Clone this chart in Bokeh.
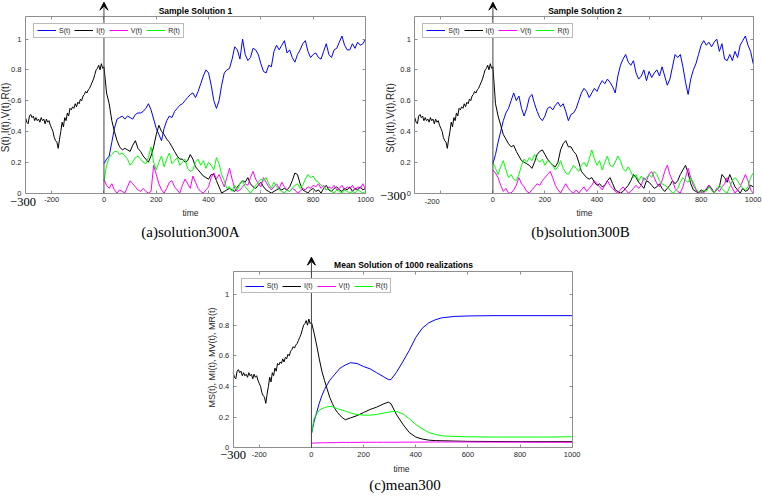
import math
from bokeh.plotting import figure
from bokeh.models import (Range1d, LinearAxis, FixedTicker, Legend, LegendItem, Arrow,
                          VeeHead, Spacer, CustomJSTickFormatter)
from bokeh.core.properties import value
from bokeh.layouts import row, column
from bokeh.embed import file_html
from bokeh.resources import INLINE

# ---------------- data ----------------
T_POST = list(range(0, 1001, 10))

HIST_T = [-300, -295, -290, -285, -280, -275, -270, -265, -260, -255, -250, -245, -240, -235,
          -230, -225, -220, -215, -210, -205, -200, -195, -190, -185, -180, -175, -170, -165,
          -160, -155, -150, -145, -140, -135, -130, -125, -120, -115, -110, -105, -100, -95,
          -90, -85, -80, -75, -70, -65, -60, -55, -50, -45, -40, -35, -30, -25, -20, -15,
          -10, -5, 0]
HIST_I = [0.49, 0.46, 0.45, 0.50, 0.51, 0.49, 0.50, 0.47, 0.49, 0.47, 0.48, 0.46, 0.49, 0.47,
          0.48, 0.45, 0.48, 0.46, 0.47, 0.44, 0.42, 0.40, 0.36, 0.34, 0.33, 0.29, 0.35, 0.40,
          0.46, 0.43, 0.49, 0.47, 0.52, 0.50, 0.55, 0.54, 0.56, 0.55, 0.58, 0.56, 0.59, 0.58,
          0.61, 0.60, 0.63, 0.64, 0.66, 0.65, 0.67, 0.68, 0.70, 0.72, 0.74, 0.77, 0.80, 0.81,
          0.83, 0.80, 0.84, 0.81, 0.82]

# Sample solution 1
S1 = [0.19, 0.22, 0.24, 0.33, 0.42, 0.48, 0.49, 0.50, 0.48, 0.50,
      0.49, 0.48, 0.51, 0.52, 0.52, 0.53, 0.55, 0.58, 0.54, 0.48,
      0.42, 0.38, 0.34, 0.42, 0.47, 0.50, 0.49, 0.53, 0.55, 0.57,
      0.58, 0.60, 0.62, 0.64, 0.65, 0.62, 0.66, 0.71, 0.76, 0.80,
      0.78, 0.70, 0.60, 0.55, 0.60, 0.70, 0.78, 0.80, 0.81, 0.87,
      0.95, 0.93, 0.87, 1.00, 0.90, 0.86, 0.88, 0.94, 0.93, 0.90,
      0.84, 0.79, 0.78, 0.83, 0.82, 0.92, 0.96, 0.93, 0.96, 0.99,
      0.91, 0.93, 0.88, 0.85, 0.90, 0.93, 0.97, 0.99, 0.92, 0.88,
      0.90, 0.91, 0.88, 0.87, 0.92, 0.97, 0.90, 0.88, 0.93, 0.94,
      0.98, 1.02, 0.96, 0.93, 0.93, 0.97, 0.94, 0.98, 0.96, 0.97, 1.00]
I1 = [0.82, 0.65, 0.58, 0.47, 0.40, 0.34, 0.30, 0.28, 0.29, 0.28,
      0.27, 0.31, 0.34, 0.29, 0.27, 0.24, 0.22, 0.20, 0.24, 0.30,
      0.38, 0.44, 0.40, 0.38, 0.35, 0.33, 0.30, 0.27, 0.24, 0.22,
      0.22, 0.20, 0.21, 0.25, 0.22, 0.17, 0.15, 0.13, 0.11, 0.10,
      0.09, 0.12, 0.12, 0.08, 0.04, 0.00, 0.01, 0.02, 0.03, 0.02,
      0.01, 0.04, 0.06, 0.08, 0.07, 0.10, 0.06, 0.04, 0.03, 0.05,
      0.07, 0.04, 0.02, 0.01, 0.00, 0.01, 0.02, 0.03, 0.02, 0.03,
      0.02, 0.04, 0.08, 0.13, 0.12, 0.06, 0.02, 0.01, 0.00, 0.02,
      0.03, 0.01, 0.02, 0.00, 0.03, 0.05, 0.02, 0.01, 0.03, 0.04,
      0.02, 0.01, 0.03, 0.02, 0.04, 0.01, 0.03, 0.02, 0.04, 0.02, 0.03]
V1 = [0.09, 0.05, 0.03, 0.06, 0.02, 0.00, 0.02, 0.01, 0.00, 0.04,
      0.08, 0.06, 0.04, 0.02, 0.01, 0.03, 0.01, 0.00, 0.01, 0.18,
      0.12, 0.06, 0.02, 0.00, 0.03, 0.07, 0.08, 0.04, 0.02, 0.00,
      0.05, 0.09, 0.06, 0.03, 0.11, 0.07, 0.03, 0.01, 0.00, 0.02,
      0.04, 0.10, 0.13, 0.09, 0.12, 0.08, 0.04, 0.10, 0.16, 0.09,
      0.03, 0.01, 0.02, 0.04, 0.06, 0.05, 0.10, 0.14, 0.09, 0.06,
      0.04, 0.10, 0.07, 0.04, 0.02, 0.04, 0.06, 0.03, 0.07, 0.04,
      0.02, 0.01, 0.03, 0.02, 0.00, 0.01, 0.03, 0.02, 0.04, 0.03,
      0.05, 0.04, 0.06, 0.03, 0.05, 0.02, 0.04, 0.03, 0.05, 0.02,
      0.03, 0.05, 0.02, 0.04, 0.03, 0.05, 0.02, 0.04, 0.03, 0.06, 0.02]
R1 = [0.08, 0.18, 0.23, 0.25, 0.27, 0.27, 0.25, 0.26, 0.24, 0.22,
      0.18, 0.20, 0.23, 0.24, 0.22, 0.20, 0.19, 0.23, 0.30, 0.20,
      0.15, 0.20, 0.24, 0.17, 0.22, 0.26, 0.19, 0.21, 0.23, 0.18,
      0.20, 0.22, 0.16, 0.14, 0.15, 0.20, 0.22, 0.18, 0.21, 0.16,
      0.20, 0.18, 0.15, 0.23, 0.19, 0.12, 0.08, 0.03, 0.04, 0.01,
      0.05, 0.02, 0.06, 0.08, 0.04, 0.02, 0.00, 0.02, 0.05, 0.07,
      0.09, 0.08, 0.10, 0.06, 0.03, 0.07, 0.04, 0.02, 0.01, 0.00,
      0.02, 0.01, 0.03, 0.05, 0.06, 0.03, 0.05, 0.09, 0.12, 0.10,
      0.11, 0.08, 0.07, 0.05, 0.04, 0.02, 0.03, 0.01, 0.00, 0.02,
      0.01, 0.00, 0.02, 0.01, 0.00, 0.01, 0.00, 0.02, 0.01, 0.00, 0.01]

# Sample solution 2
S2 = [0.19, 0.25, 0.33, 0.40, 0.47, 0.52, 0.55, 0.60, 0.65, 0.60,
      0.63, 0.55, 0.50, 0.55, 0.62, 0.64, 0.58, 0.53, 0.49, 0.47,
      0.50, 0.55, 0.56, 0.54, 0.57, 0.59, 0.56, 0.58, 0.53, 0.47,
      0.51, 0.52, 0.55, 0.60, 0.65, 0.68, 0.66, 0.62, 0.65, 0.68,
      0.66, 0.70, 0.73, 0.71, 0.74, 0.72, 0.69, 0.65, 0.76, 0.83,
      0.87, 0.90, 0.85, 0.83, 0.86, 0.78, 0.74, 0.76, 0.80, 0.73,
      0.79, 0.75, 0.78, 0.80, 0.76, 0.82, 0.76, 0.70, 0.74, 0.82,
      0.90, 0.88, 0.90, 0.82, 0.72, 0.64, 0.74, 0.80, 0.84, 0.90,
      0.96, 0.99, 0.96, 0.98, 0.95, 0.98, 1.00, 0.92, 0.97, 0.87,
      0.86, 0.90, 0.86, 0.92, 0.88, 0.96, 0.99, 1.02, 0.96, 0.92, 0.84]
I2 = [0.82, 0.58, 0.50, 0.44, 0.38, 0.35, 0.32, 0.30, 0.31, 0.27,
      0.24, 0.21, 0.20, 0.19, 0.18, 0.16, 0.20, 0.25, 0.27, 0.28,
      0.25, 0.22, 0.20, 0.18, 0.17, 0.20, 0.28, 0.32, 0.34, 0.30,
      0.30, 0.27, 0.25, 0.20, 0.14, 0.12, 0.10, 0.09, 0.10, 0.07,
      0.05, 0.06, 0.04, 0.05, 0.08, 0.10, 0.06, 0.02, 0.01, 0.00,
      0.01, 0.03, 0.05, 0.08, 0.12, 0.10, 0.07, 0.05, 0.03, 0.08,
      0.07, 0.05, 0.03, 0.04, 0.06, 0.03, 0.01, 0.03, 0.05, 0.08,
      0.06, 0.08, 0.12, 0.15, 0.18, 0.13, 0.06, 0.02, 0.01, 0.00,
      0.02, 0.01, 0.02, 0.05, 0.03, 0.00, 0.02, 0.04, 0.12, 0.10,
      0.07, 0.12, 0.08, 0.04, 0.02, 0.00, 0.03, 0.01, 0.02, 0.05, 0.04]
V2 = [0.15, 0.13, 0.10, 0.05, 0.01, 0.03, 0.00, 0.00, 0.02, 0.05,
      0.10, 0.06, 0.04, 0.01, 0.00, 0.02, 0.04, 0.06, 0.05, 0.08,
      0.10, 0.12, 0.14, 0.10, 0.05, 0.02, 0.00, 0.03, 0.06, 0.03,
      0.01, 0.00, 0.02, 0.00, 0.02, 0.04, 0.01, 0.03, 0.05, 0.08,
      0.06, 0.04, 0.02, 0.05, 0.08, 0.05, 0.03, 0.01, 0.00, 0.02,
      0.04, 0.02, 0.00, 0.01, 0.03, 0.05, 0.03, 0.05, 0.10, 0.08,
      0.12, 0.14, 0.10, 0.06, 0.04, 0.08, 0.14, 0.18, 0.12, 0.08,
      0.03, 0.01, 0.00, 0.04, 0.10, 0.16, 0.10, 0.05, 0.02, 0.00,
      0.01, 0.00, 0.03, 0.05, 0.02, 0.00, 0.03, 0.01, 0.04, 0.06,
      0.10, 0.07, 0.03, 0.00, 0.02, 0.04, 0.08, 0.12, 0.08, 0.02, 0.00]
R2 = [0.20, 0.16, 0.12, 0.17, 0.21, 0.15, 0.10, 0.12, 0.09, 0.08,
      0.12, 0.18, 0.22, 0.20, 0.23, 0.21, 0.25, 0.22, 0.20, 0.22,
      0.18, 0.21, 0.20, 0.18, 0.15, 0.17, 0.21, 0.16, 0.13, 0.12,
      0.15, 0.18, 0.16, 0.14, 0.18, 0.20, 0.17, 0.22, 0.28, 0.22,
      0.18, 0.21, 0.15, 0.20, 0.24, 0.18, 0.17, 0.20, 0.24, 0.21,
      0.16, 0.14, 0.17, 0.14, 0.10, 0.12, 0.08, 0.11, 0.08, 0.10,
      0.12, 0.10, 0.14, 0.12, 0.08, 0.06, 0.05, 0.04, 0.02, 0.00,
      0.01, 0.03, 0.07, 0.10, 0.08, 0.07, 0.10, 0.07, 0.03, 0.01,
      0.00, 0.02, 0.01, 0.04, 0.02, 0.00, 0.02, 0.05, 0.03, 0.01,
      0.00, 0.04, 0.08, 0.10, 0.08, 0.05, 0.03, 0.02, 0.04, 0.10, 0.13]

# Mean solution of 1000 realizations
MEAN_T = [0, 10, 20, 30, 40, 50, 60, 70, 80, 90, 100, 110, 120, 130, 150, 175, 200, 225,
          250, 275, 295, 305, 325, 350, 375, 400, 425, 450, 475, 500, 550, 600, 700, 800,
          900, 1000]
MS = [0.09, 0.17, 0.23, 0.29, 0.34, 0.38, 0.41, 0.44, 0.46, 0.48, 0.50, 0.52, 0.53, 0.54,
      0.555, 0.55, 0.53, 0.515, 0.49, 0.465, 0.445, 0.445, 0.49, 0.56, 0.635, 0.72, 0.78,
      0.815, 0.835, 0.848, 0.857, 0.86, 0.862, 0.862, 0.862, 0.862]
MI = [0.82, 0.75, 0.67, 0.58, 0.50, 0.44, 0.385, 0.33, 0.29, 0.255, 0.23, 0.21, 0.195,
      0.183, 0.195, 0.21, 0.23, 0.25, 0.265, 0.285, 0.298, 0.288, 0.22, 0.155, 0.10, 0.07,
      0.057, 0.05, 0.047, 0.046, 0.044, 0.042, 0.041, 0.04, 0.04, 0.04]
MV = [0.030, 0.031, 0.032, 0.032, 0.033, 0.033, 0.033, 0.034, 0.034, 0.034, 0.034, 0.035,
      0.035, 0.035, 0.035, 0.035, 0.036, 0.036, 0.036, 0.036, 0.036, 0.036, 0.036, 0.037,
      0.037, 0.037, 0.037, 0.038, 0.038, 0.038, 0.038, 0.038, 0.037, 0.037, 0.036, 0.036]
MR = [0.09, 0.19, 0.22, 0.245, 0.255, 0.262, 0.267, 0.27, 0.268, 0.262, 0.255, 0.25, 0.245,
      0.24, 0.227, 0.217, 0.213, 0.213, 0.217, 0.226, 0.232, 0.235, 0.238, 0.222, 0.19,
      0.152, 0.124, 0.10, 0.087, 0.078, 0.074, 0.072, 0.07, 0.07, 0.07, 0.072]

XMIN, XMAX = -300, 1000
YMIN, YMAX = 0, 1.15
X_TICKS = [-200, 0, 200, 400, 600, 800, 1000]
Y_TICKS = [0, 0.2, 0.4, 0.6, 0.8, 1]
LEGEND_LABELS = ["S(t)", "I(t)", "V(t)", "R(t)"]
COLORS = ["#0000FF", "#000000", "#FF00FF", "#00FF00"]

FONT = "Liberation Sans"
SERIF = "Liberation Serif"
BOX = "#8f8f8f"
TXT = "#262626"


def make_panel(W, H, box, txt, t_post, series, shift_m200=False):
    L, R, T, B = box  # axes box in canvas pixels
    xs = (R - L) / (XMAX - XMIN)
    ys = (B - T) / (YMAX - YMIN)
    x_range = Range1d(XMIN - L / xs, XMAX + (W - R) / xs)
    y_range = Range1d(YMIN - (H - B) / ys, YMAX + T / ys)

    def X(px):
        return XMIN + (px - L) / xs

    def Y(py):
        return YMIN + (B - py) / ys

    p = figure(width=W, height=H, x_range=x_range, y_range=y_range,
               output_backend="svg", toolbar_location=None,
               min_border_left=0, min_border_right=0, min_border_top=0, min_border_bottom=0,
               outline_line_color=None, background_fill_color="white",
               border_fill_color="white")
    p.grid.visible = False

    xcode = "return tick.toString()"
    if shift_m200:
        xcode = "return (tick == -200) ? '' : tick.toString()"
    xa = p.xaxis[0]
    ya = p.yaxis[0]
    xa.ticker = FixedTicker(ticks=X_TICKS)
    xa.formatter = CustomJSTickFormatter(code=xcode)
    xa.fixed_location = YMIN
    xa.bounds = (XMIN, XMAX)
    ya.ticker = FixedTicker(ticks=Y_TICKS)
    ya.formatter = CustomJSTickFormatter(code="return tick.toString()")
    ya.fixed_location = XMIN
    ya.bounds = (YMIN, YMAX)
    top = LinearAxis(ticker=FixedTicker(ticks=X_TICKS), fixed_location=YMAX,
                     bounds=(XMIN, XMAX), formatter=CustomJSTickFormatter(code="return ''"))
    right = LinearAxis(ticker=FixedTicker(ticks=Y_TICKS), fixed_location=XMAX,
                       bounds=(YMIN, YMAX), formatter=CustomJSTickFormatter(code="return ''"))
    p.add_layout(top, "above")
    p.add_layout(right, "right")
    for ax in [xa, ya, top, right]:
        ax.axis_line_color = BOX
        ax.major_tick_line_color = BOX
        ax.minor_tick_line_color = None
        ax.major_tick_in = 3
        ax.major_tick_out = 0
        ax.major_label_text_font = FONT
        ax.major_label_text_font_size = "7.5px"
        ax.major_label_text_color = TXT
        ax.major_label_standoff = 4

    # text elements (drawn as text glyphs positioned in the panel's own coordinates)
    def lab(pos, text, font=FONT, size="7.5px", style="normal", color=TXT, angle=0.0):
        p.text(x=[X(pos[0])], y=[Y(pos[1])], text=[text], text_font=value(font),
               text_font_size=value(size), text_font_style=style, text_color=color,
               text_align="center", text_baseline="middle", angle=angle)

    lab(txt["title_pos"], txt["title"], size="8.5px", style="bold", color="black")
    lab(txt["ylab_pos"], txt["ylab"], size=txt["ylab_size"], angle=math.pi / 2)
    lab(txt["time_pos"], "time", size="8.5px")
    lab(txt["m300_pos"], "\u2212300", font=SERIF, size="12.5px", color="black")
    lab(txt["cap_pos"], txt["caption"], font=SERIF, size="15px", color="black")
    if shift_m200:
        lab(txt["m200_pos"], "-200")

    p.line(HIST_T, HIST_I, line_color="black", line_width=1)
    rends = []
    for ys_, col in zip(series, COLORS):
        rends.append(p.line(t_post, ys_, line_color=col, line_width=1))

    p.add_layout(Arrow(end=VeeHead(size=8, fill_color="black", line_color="black", line_width=1),
                       x_start=0, y_start=YMIN, x_end=0, y_end=Y(txt["arrow_tip"]),
                       line_color="#444444", line_width=1))

    legend = Legend(items=[LegendItem(label=l, renderers=[r]) for l, r in zip(LEGEND_LABELS, rends)],
                    orientation="horizontal", location=(L + 8, H - (T + 11) - 11),
                    label_text_font=FONT, label_text_font_size="7px", label_text_color=TXT,
                    label_height=6, label_width=6, glyph_height=6, glyph_width=19,
                    label_standoff=3, spacing=4, padding=3, margin=0,
                    border_line_color="#777777", border_line_width=1,
                    background_fill_color="white", background_fill_alpha=1)
    p.add_layout(legend)
    return p


TXT1 = dict(title="Sample Solution 1", title_pos=(195, 10), ylab="S(t),I(t),V(t),R(t)",
            ylab_size="10px", ylab_pos=(5, 117), time_pos=(190, 212.5), m300_pos=(22.5, 201),
            caption="(a)solution300A", cap_pos=(190, 231.5), arrow_tip=1.7)
TXT2 = dict(title="Sample Solution 2", title_pos=(209.5, 10), ylab="S(t),I(t),V(t),R(t)",
            ylab_size="10px", ylab_pos=(15, 117.5), time_pos=(209, 212.5),
            m300_pos=(17.5, 195), m200_pos=(56.7, 200.5),
            caption="(b)solution300B", cap_pos=(205, 231.5), arrow_tip=1.7)
TXT3 = dict(title="Mean Solution of 1000 realizations", title_pos=(213, 16.5),
            ylab="MS(t), MI(t), MV(t), MR(t)", ylab_size="9px", ylab_pos=(21.5, 109),
            time_pos=(211, 220.5), m300_pos=(42.5, 206), caption="(c)mean300",
            cap_pos=(214.5, 236.5), arrow_tip=8.7)

p1 = make_panel(375, 248, (25, 365, 15.5, 192.5), TXT1, T_POST, [S1, I1, V1, R1])
p2 = make_panel(387, 248, (39.3, 377.7, 15.5, 192.5), TXT2, T_POST, [S2, I2, V2, R2],
                shift_m200=True)
p3 = make_panel(392, 248, (42.7, 381.7, 23, 199.3), TXT3, MEAN_T, [MS, MI, MV, MR])

layout = column(row(p1, p2), row(Spacer(width=190, height=248), p3))

with open("out.html", "w") as f:
    f.write(file_html(layout, INLINE))
